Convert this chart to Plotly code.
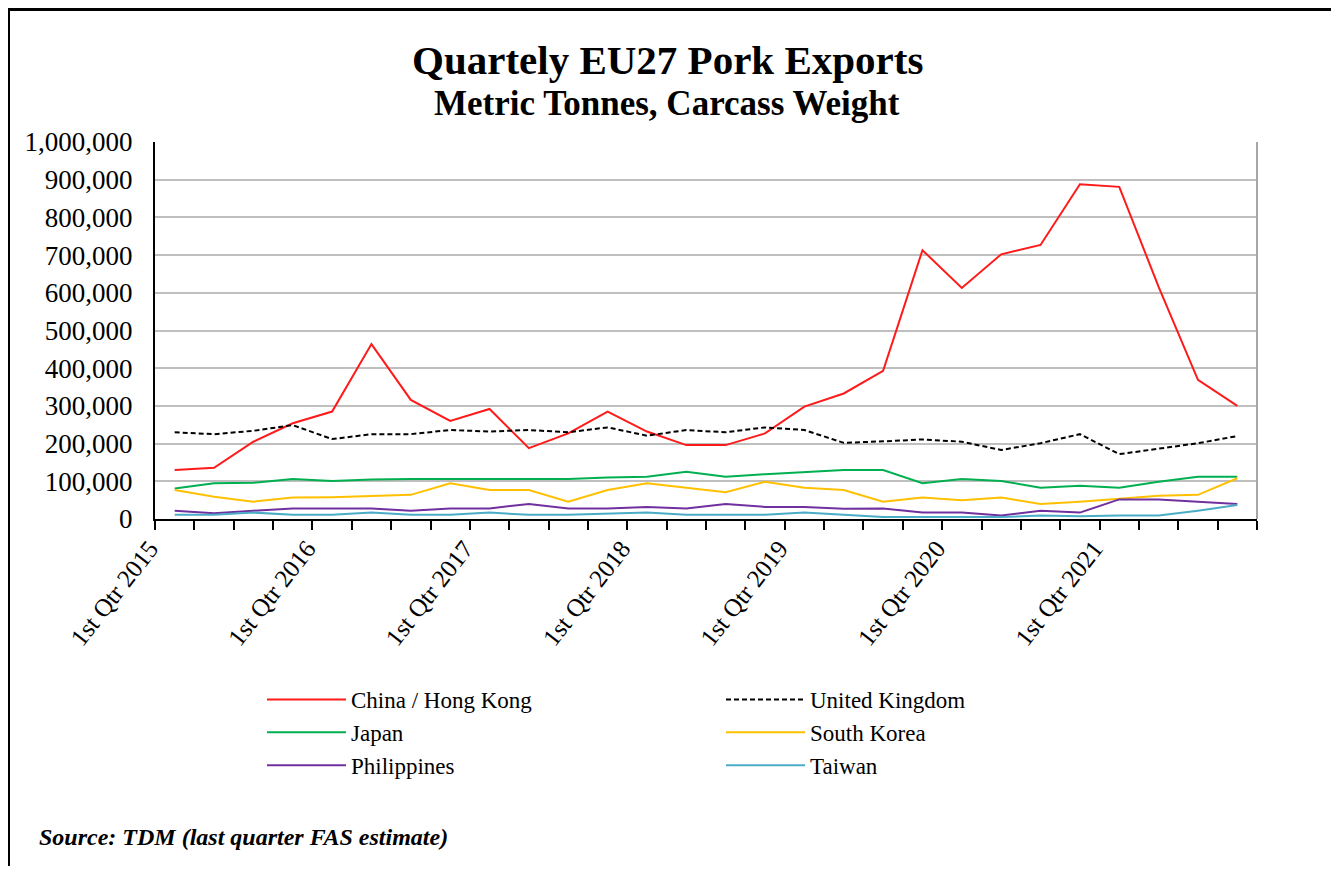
import plotly.graph_objects as go

quarters = [f"{q} Qtr {y}" for y in range(2015, 2022) for q in ["1st", "2nd", "3rd", "4th"]]
tick_labels = ["1st Qtr 2015", "1st Qtr 2016", "1st Qtr 2017", "1st Qtr 2018",
               "1st Qtr 2019", "1st Qtr 2020", "1st Qtr 2021"]

china_hk = [130000, 136000, 205000, 254000, 285000, 464000, 316000, 260000, 292000, 188000,
            227000, 285000, 232000, 196000, 196000, 227000, 298000, 333000, 393000, 713000,
            613000, 702000, 727000, 888000, 881000, 616000, 369000, 300000]
united_kingdom = [230000, 225000, 234000, 249000, 212000, 225000, 225000, 236000, 232000, 236000,
                  230000, 243000, 221000, 236000, 230000, 243000, 236000, 202000, 206000, 211000,
                  205000, 183000, 201000, 225000, 172000, 187000, 201000, 220000]
japan = [81000, 95000, 96000, 106000, 101000, 105000, 106000, 106000, 106000, 106000,
         106000, 110000, 112000, 125000, 112000, 119000, 125000, 130000, 130000, 95000,
         106000, 101000, 83000, 88000, 83000, 99000, 112000, 112000]
south_korea = [77000, 59000, 46000, 57000, 58000, 62000, 64000, 95000, 77000, 77000,
               46000, 77000, 95000, 83000, 71000, 99000, 83000, 77000, 46000, 57000,
               50000, 57000, 40000, 46000, 53000, 62000, 64000, 108000]
philippines = [22000, 15000, 22000, 28000, 28000, 28000, 22000, 28000, 28000, 40000,
               28000, 28000, 32000, 28000, 40000, 32000, 32000, 27000, 28000, 17000,
               17000, 9000, 22000, 17000, 52000, 52000, 46000, 40000]
taiwan = [11000, 11000, 17000, 11000, 11000, 17000, 11000, 11000, 17000, 11000,
          11000, 15000, 17000, 11000, 11000, 11000, 17000, 11000, 5000, 5000,
          5000, 5000, 9000, 7000, 9000, 9000, 22000, 37000]

series = [
    ("China / Hong Kong", china_hk, "#FF1A1A", "solid"),
    ("United Kingdom", united_kingdom, "#000000", "5px,3px"),
    ("Japan", japan, "#00B050", "solid"),
    ("South Korea", south_korea, "#FFC000", "solid"),
    ("Philippines", philippines, "#7030A0", "solid"),
    ("Taiwan", taiwan, "#4BACC6", "solid"),
]

xs = list(range(len(quarters)))
serif = "Liberation Serif, Times New Roman, serif"

fig = go.Figure()
for name, vals, color, dash in series:
    fig.add_trace(go.Scatter(
        x=xs, y=vals, name=name, mode="lines",
        line=dict(color=color, width=2, dash=dash),
        text=quarters, hovertemplate="%{text}: %{y:,}<extra>" + name + "</extra>",
    ))

# page body has an 8px margin: work in screen pixels and convert
OX, OY = 8, 8
W, H = 1323, 858
L, R, T, B = 155 - OX, 1257 - OX, 142 - OY, 519 - OY


def px_x(sx):
    return (sx - OX - L) / (R - L)


def px_y(sy):
    return (B - (sy - OY)) / (B - T)


fig.update_layout(
    width=W, height=H,
    margin=dict(l=L, r=W - R, t=T, b=H - B, pad=0, autoexpand=False),
    paper_bgcolor="white", plot_bgcolor="white",
    font=dict(family=serif, color="#000000"),
    showlegend=True,
    legend=dict(
        orientation="h", x=px_x(262), y=px_y(678), xanchor="left", yanchor="top",
        entrywidth=365, entrywidthmode="pixels", itemwidth=79,
        font=dict(family=serif, size=23, color="#000000"),
        bgcolor="rgba(0,0,0,0)", tracegroupgap=0,
    ),
    xaxis=dict(
        range=[-0.5, len(quarters) - 0.5],
        tickmode="array", tickvals=[i * 4 for i in range(len(tick_labels))], ticktext=tick_labels,
        tickangle=-52, ticks="", ticklabelstandoff=3, ticklabelshift=-25,
        tickfont=dict(family=serif, size=25, color="#000000"),
        showgrid=False, zeroline=False,
        showline=True, linecolor="#000000", linewidth=2,
        minor=dict(tickmode="array", tickvals=[i - 0.5 for i in range(len(quarters) + 1)],
                   ticks="outside", ticklen=9, tickwidth=2, tickcolor="#000000", showgrid=False),
    ),
    yaxis=dict(
        range=[0, 1000000], dtick=100000, tickformat=",d",
        tickfont=dict(family=serif, size=27, color="#000000"),
        showgrid=True, gridcolor="#BFBFBF", gridwidth=2,
        zeroline=False, showline=True, linecolor="#000000", linewidth=2,
        ticks="", ticklabelstandoff=15,
    ),
)

# plot-area right border (grey)
fig.add_shape(type="line", xref="paper", yref="paper", x0=1, x1=1, y0=0, y1=1,
              line=dict(color="#A6A6A6", width=2))
# outer chart border (left and top)
fig.add_shape(type="line", xref="paper", yref="paper", x0=px_x(8.5), x1=px_x(8.5),
              y0=px_y(9.5), y1=px_y(900), line=dict(color="#000000", width=3))
fig.add_shape(type="line", xref="paper", yref="paper", x0=px_x(7), x1=px_x(1400),
              y0=px_y(9.5), y1=px_y(9.5), line=dict(color="#000000", width=3))

fig.add_annotation(text="<b>Quartely EU27 Pork Exports</b>", xref="paper", yref="paper",
                   x=px_x(667), y=px_y(60), xanchor="center", yanchor="middle", showarrow=False,
                   font=dict(family=serif, size=41, color="#000000"))
fig.add_annotation(text="<b>Metric Tonnes, Carcass Weight</b>", xref="paper", yref="paper",
                   x=px_x(667), y=px_y(103), xanchor="center", yanchor="middle", showarrow=False,
                   font=dict(family=serif, size=35, color="#000000"))
fig.add_annotation(text="<b><i>Source: TDM (last quarter FAS estimate)</i></b>", xref="paper", yref="paper",
                   x=px_x(37), y=px_y(837), xanchor="left", yanchor="middle", showarrow=False,
                   font=dict(family=serif, size=24, color="#000000"))

fig.write_html("out.html")
